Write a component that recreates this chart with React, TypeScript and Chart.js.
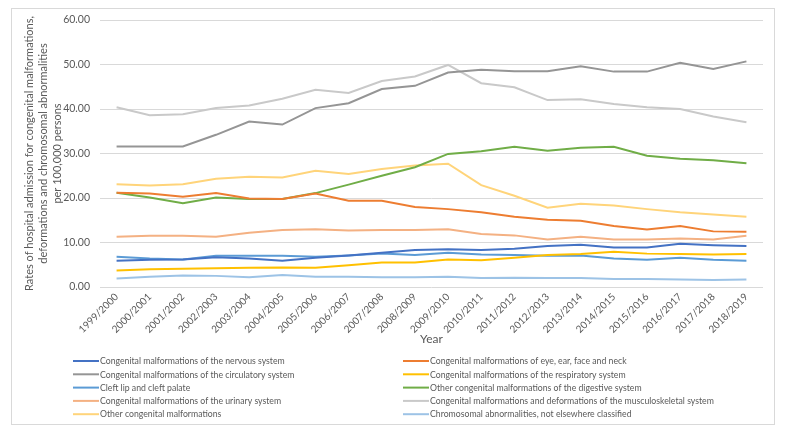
import React, { useEffect, useRef } from "react";
import { Chart, registerables } from "chart.js";

Chart.register(...registerables);

const years = [
  "1999/2000", "2000/2001", "2001/2002", "2002/2003", "2003/2004", "2004/2005",
  "2005/2006", "2006/2007", "2007/2008", "2008/2009", "2009/2010", "2010/2011",
  "2011/2012", "2012/2013", "2013/2014", "2014/2015", "2015/2016", "2016/2017",
  "2017/2018", "2018/2019",
];

const nervous = [5.9, 6.1, 6.2, 6.7, 6.4, 5.9, 6.6, 7.1, 7.7, 8.3, 8.5, 8.3, 8.6, 9.2, 9.5, 8.9, 8.9, 9.7, 9.4, 9.2];
const eyeEarFaceNeck = [21.2, 21.0, 20.3, 21.1, 19.9, 19.8, 21.0, 19.4, 19.4, 18.0, 17.5, 16.8, 15.8, 15.1, 14.9, 13.7, 12.9, 13.7, 12.5, 12.4];
const circulatory = [31.6, 31.6, 31.6, 34.2, 37.2, 36.5, 40.2, 41.3, 44.5, 45.2, 48.2, 48.8, 48.5, 48.5, 49.6, 48.4, 48.4, 50.4, 49.0, 50.7];
const respiratory = [3.7, 4.0, 4.1, 4.2, 4.3, 4.4, 4.3, 4.9, 5.5, 5.5, 6.2, 6.0, 6.6, 7.2, 7.4, 7.9, 7.5, 7.4, 7.3, 7.4];
const cleft = [6.8, 6.4, 6.2, 7.0, 7.0, 7.0, 6.8, 7.1, 7.5, 7.2, 7.7, 7.3, 7.2, 7.0, 7.1, 6.4, 6.1, 6.6, 6.1, 5.9];
const digestive = [21.2, 20.1, 18.8, 20.1, 19.8, 19.8, 21.1, 23.0, 25.0, 26.9, 29.9, 30.5, 31.5, 30.6, 31.3, 31.5, 29.5, 28.8, 28.5, 27.8];
const urinary = [11.3, 11.5, 11.5, 11.3, 12.2, 12.8, 13.0, 12.7, 12.8, 12.8, 13.0, 11.9, 11.6, 10.7, 11.3, 10.7, 10.7, 10.9, 10.7, 11.5];
const musculoskeletal = [40.4, 38.6, 38.8, 40.2, 40.8, 42.3, 44.3, 43.6, 46.3, 47.3, 49.9, 45.8, 44.9, 42.0, 42.2, 41.1, 40.4, 40.0, 38.3, 37.0];
const otherMalformations = [23.1, 22.8, 23.1, 24.3, 24.8, 24.6, 26.1, 25.4, 26.5, 27.3, 27.7, 22.9, 20.5, 17.8, 18.7, 18.3, 17.5, 16.8, 16.3, 15.8];
const chromosomal = [1.9, 2.3, 2.6, 2.5, 2.2, 2.7, 2.3, 2.3, 2.2, 2.2, 2.3, 2.0, 2.1, 2.0, 2.0, 1.8, 1.8, 1.7, 1.6, 1.7];

const seriesLabels = [
  "Congenital malformations of the nervous system",
  "Congenital malformations of eye, ear, face and neck",
  "Congenital malformations of the circulatory system",
  "Congenital malformations of the respiratory system",
  "Cleft lip and cleft palate",
  "Other congenital malformations of the digestive system",
  "Congenital malformations of the urinary system",
  "Congenital malformations and deformations of the musculoskeletal system",
  "Other congenital malformations",
  "Chromosomal abnormalities, not elsewhere classified",
];
const seriesValues = [
  nervous, eyeEarFaceNeck, circulatory, respiratory, cleft,
  digestive, urinary, musculoskeletal, otherMalformations, chromosomal,
];
const seriesColors = [
  "#4472C4", "#ED7D31", "#959595", "#FFC000", "#5B9BD5",
  "#70AD47", "#F4B183", "#C9C9C9", "#FFD47A", "#9DC3E6",
];

const yTitle = [
  "Rates of hospital admission for congenital malformations,",
  "deformations and chromosomal abnormalities",
  "per 100,000 persons",
];

const FONT = "Lato, 'Open Sans', sans-serif";
const TEXT = "#595959";

const legendPlugin = {
  id: "twoColLegend",
  afterDraw(chart: any) {
    const ctx = chart.ctx;
    const area = chart.chartArea;
    ctx.save();
    ctx.font = `10px ${FONT}`;
    ctx.fillStyle = TEXT;
    ctx.textBaseline = "middle";
    ctx.textAlign = "left";
    chart.data.datasets.forEach((ds: any, i: number) => {
      const col = i % 2;
      const row = Math.floor(i / 2);
      const x0 = col === 0 ? area.left - 27 : area.left + 303;
      const y = area.bottom + 74 + row * 13.3;
      ctx.strokeStyle = ds.borderColor;
      ctx.lineWidth = 2;
      ctx.beginPath();
      ctx.moveTo(x0, y);
      ctx.lineTo(x0 + 26, y);
      ctx.stroke();
      ctx.save();
      ctx.translate(x0 + 27, y);
      ctx.scale(0.87, 1);
      ctx.fillText(ds.label, 0, 0);
      ctx.restore();
    });
    ctx.restore();
  },
};

export default function App() {
  const ref = useRef<HTMLCanvasElement | null>(null);
  useEffect(() => {
    if (!ref.current) return;
    const chart = new Chart(ref.current, {
      type: "line",
      data: {
        labels: years,
        datasets: seriesLabels.map((label, i) => ({
          label,
          data: seriesValues[i],
          borderColor: seriesColors[i],
          backgroundColor: seriesColors[i],
          borderWidth: 2,
          pointRadius: 0,
          tension: 0,
          fill: false,
        })),
      },
      options: {
        animation: false,
        responsive: true,
        maintainAspectRatio: false,
        layout: { padding: { top: 11, right: 11, bottom: 70, left: 0 } },
        plugins: {
          legend: { display: false },
          tooltip: { enabled: false },
        },
        scales: {
          x: {
            offset: true,
            grid: { display: false, drawTicks: false },
            border: { display: false },
            ticks: {
              autoSkip: false,
              minRotation: 45,
              maxRotation: 45,
              padding: 4,
              color: TEXT,
              font: { family: FONT, size: 10 },
            },
            title: {
              display: true,
              text: "Year",
              color: TEXT,
              font: { family: FONT, size: 12 },
              padding: { top: 0, bottom: 8 },
            },
            afterFit(scale: any) {
              scale.height = 67;
            },
          },
          y: {
            min: 0,
            max: 60,
            grid: {
              color: "#D9D9D9",
              drawTicks: true,
              tickLength: 6,
              tickColor: "rgba(0,0,0,0)",
            },
            border: { display: false },
            ticks: {
              stepSize: 10,
              padding: 4,
              color: TEXT,
              font: { family: FONT, size: 10.5 },
              callback: (v: any) => Number(v).toFixed(2),
            },
            title: {
              display: true,
              text: yTitle,
              color: TEXT,
              font: { family: FONT, size: 11, lineHeight: 1.3 },
              padding: { top: 10, bottom: 0 },
            },
            afterFit(scale: any) {
              scale.width = 88;
            },
          },
        },
      },
      plugins: [legendPlugin],
    });
    return () => chart.destroy();
  }, []);

  return (
    <div
      style={{
        width: 762,
        height: 415,
        border: "1px solid #D9D9D9",
        marginLeft: 3,
        position: "relative",
        background: "#fff",
      }}
    >
      <canvas ref={ref} />
    </div>
  );
}
